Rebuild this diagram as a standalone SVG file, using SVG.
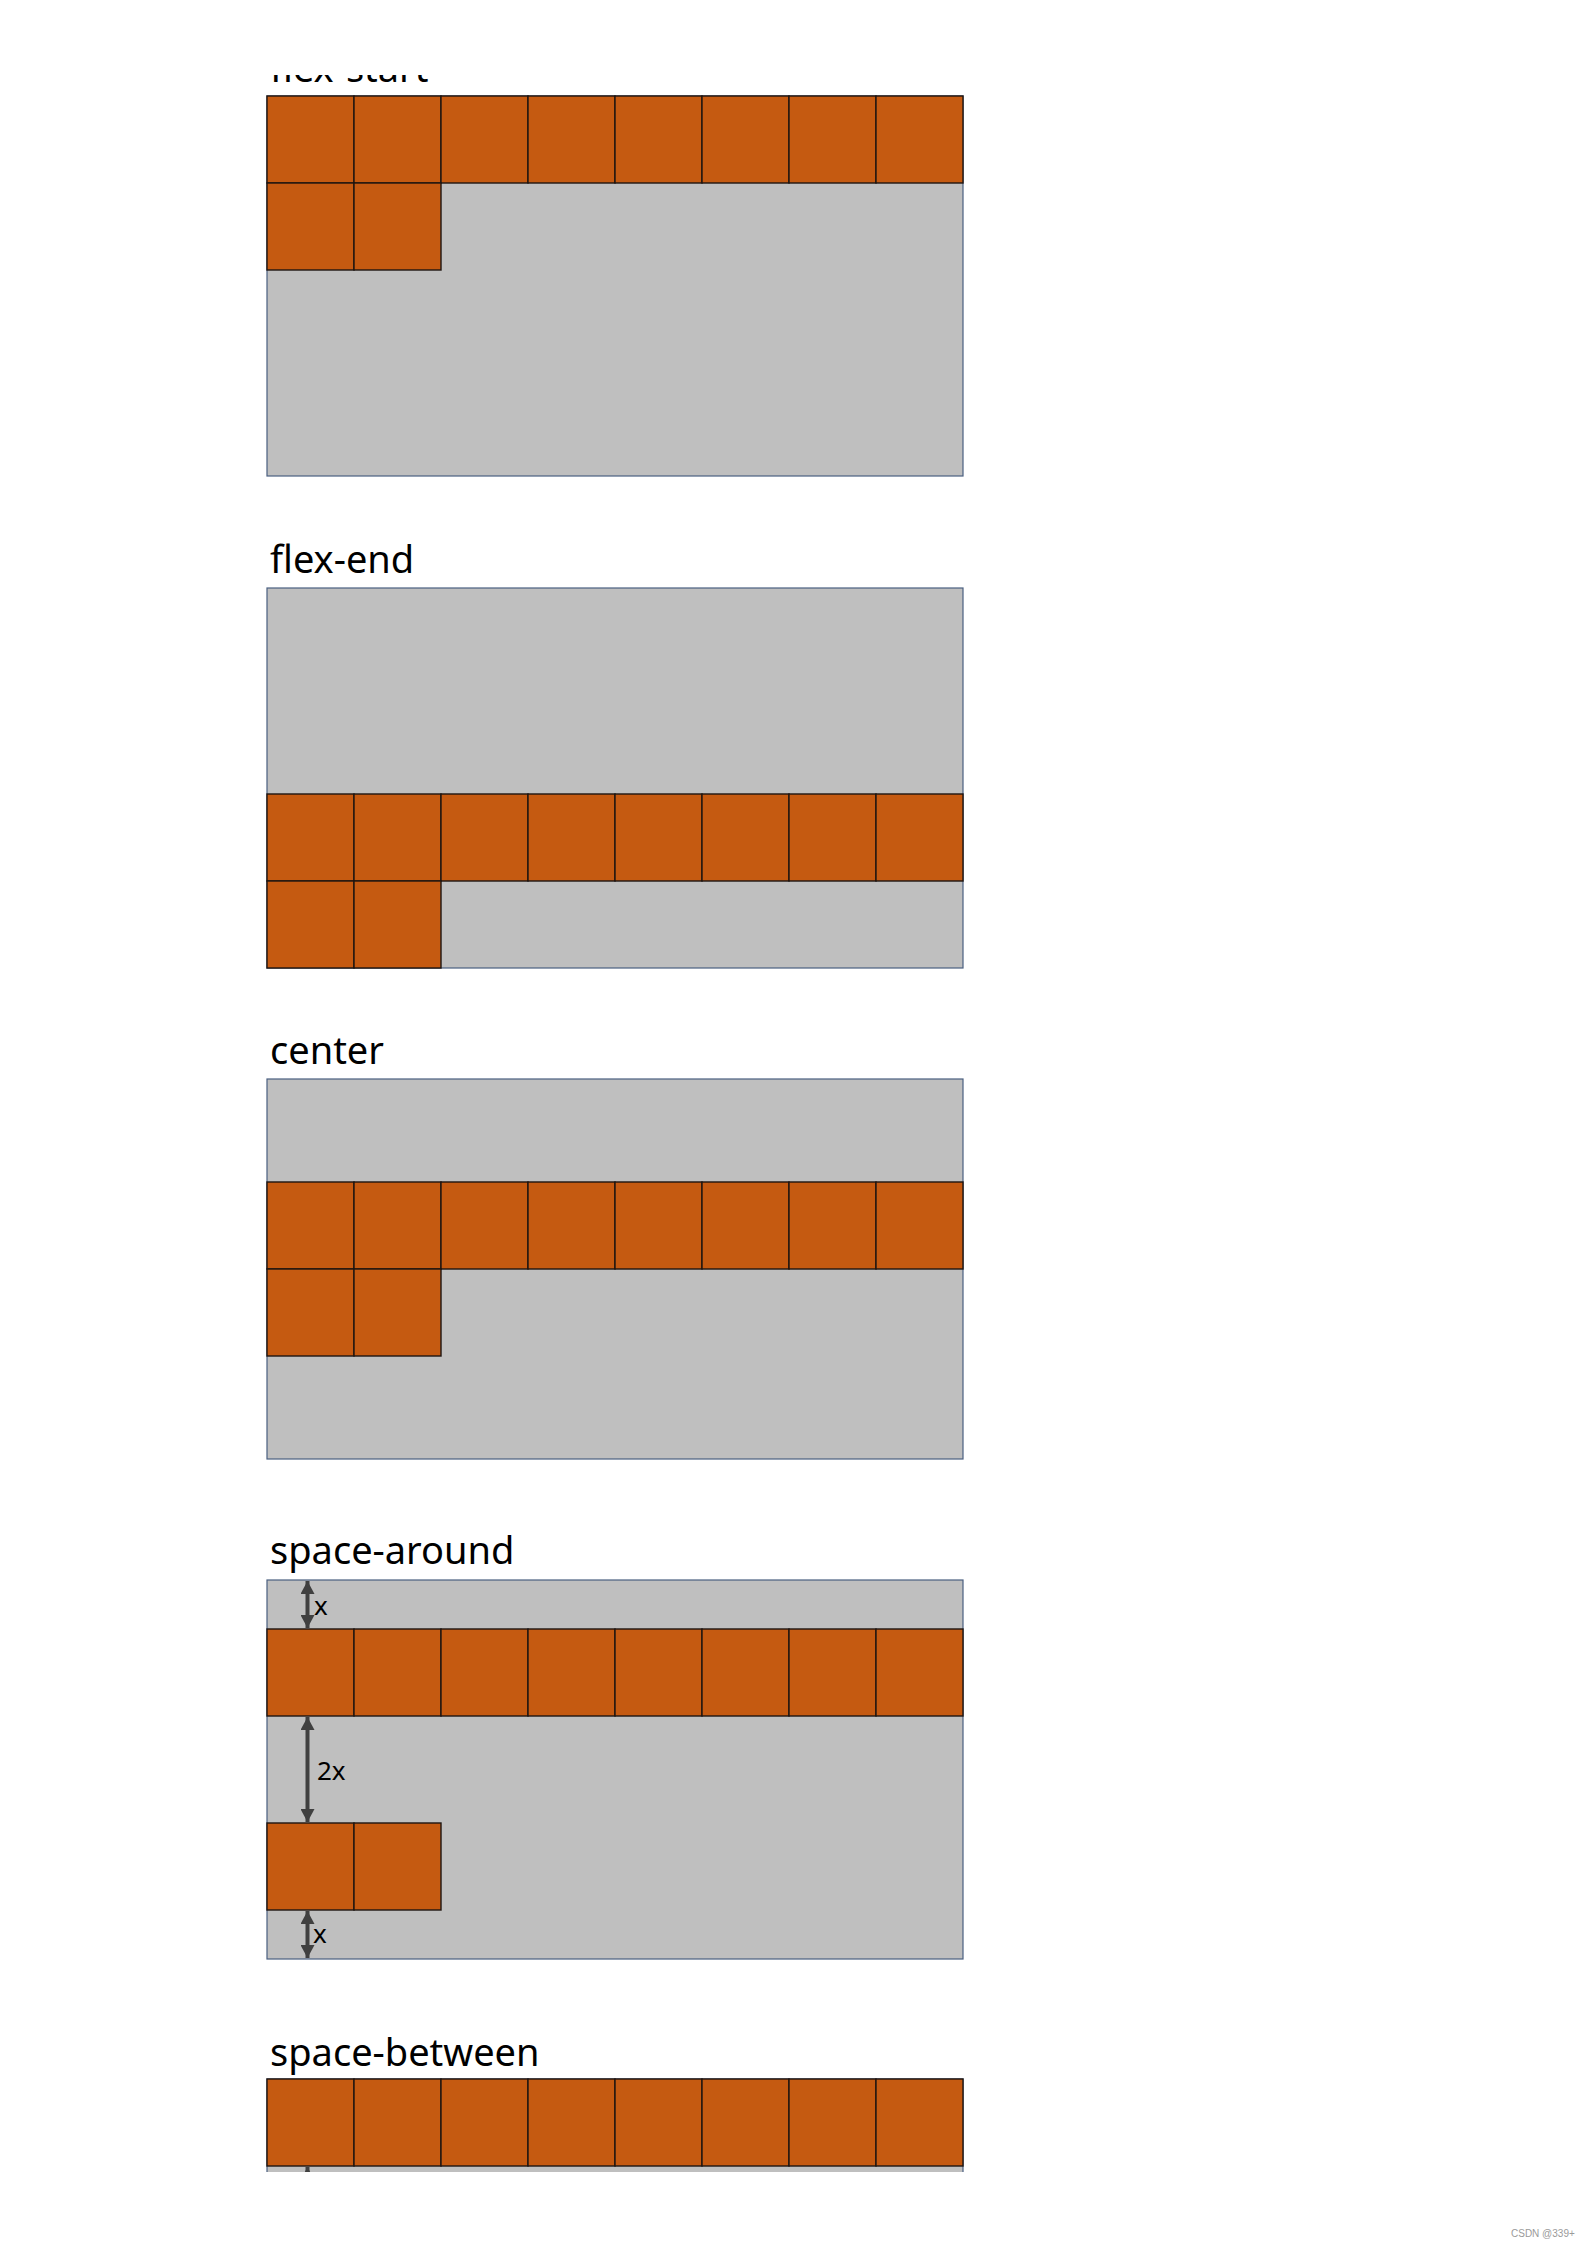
<svg xmlns="http://www.w3.org/2000/svg" width="1587" height="2246" viewBox="0 0 1587 2246">
<style>
.bg{fill:#ffffff}
.box{fill:#bfbfbf;stroke:#4a5f80;stroke-width:1.2}
.cell{fill:#c55a11;stroke:#1e1410;stroke-width:1.4}
.title{font-family:"Noto Sans","Open Sans","DejaVu Sans",sans-serif;font-size:38px;fill:#000}
.lbl{font-family:"Noto Sans","Open Sans","DejaVu Sans",sans-serif;font-size:26px;fill:#000}
.arr{stroke:#404040;stroke-width:4;fill:none}
.wm{font-family:"Liberation Sans",Arial,sans-serif;font-size:10px;fill:#9a9a9a}
</style>
<defs>
<marker id="ah" markerUnits="userSpaceOnUse" markerWidth="14" markerHeight="14" viewBox="0 0 14 14" refX="13" refY="7" orient="auto-start-reverse">
<path d="M0,0 L13,7 L0,14 Z" fill="#404040"/>
</marker>
<clipPath id="clipTop"><rect x="0" y="75" width="1587" height="100"/></clipPath>
<clipPath id="clipBottom"><rect x="0" y="2000" width="1587" height="172"/></clipPath>
<g id="row8">
<rect class="cell" x="267" y="0" width="87" height="87"/>
<rect class="cell" x="354" y="0" width="87" height="87"/>
<rect class="cell" x="441" y="0" width="87" height="87"/>
<rect class="cell" x="528" y="0" width="87" height="87"/>
<rect class="cell" x="615" y="0" width="87" height="87"/>
<rect class="cell" x="702" y="0" width="87" height="87"/>
<rect class="cell" x="789" y="0" width="87" height="87"/>
<rect class="cell" x="876" y="0" width="87" height="87"/>
</g>
<g id="row2">
<rect class="cell" x="267" y="0" width="87" height="87"/>
<rect class="cell" x="354" y="0" width="87" height="87"/>
</g>
</defs>
<rect class="bg" x="0" y="0" width="1587" height="2246"/>

<g id="flex-start">
<text class="title" x="270" y="82" clip-path="url(#clipTop)">flex-start</text>
<rect class="box" x="267" y="96" width="696" height="380"/>
<use href="#row8" y="96"/>
<use href="#row2" y="183"/>
</g>

<g id="flex-end">
<text class="title" x="270" y="573">flex-end</text>
<rect class="box" x="267" y="588" width="696" height="380"/>
<use href="#row8" y="794"/>
<use href="#row2" y="881"/>
</g>

<g id="center">
<text class="title" x="270" y="1064">center</text>
<rect class="box" x="267" y="1079" width="696" height="380"/>
<use href="#row8" y="1182"/>
<use href="#row2" y="1269"/>
</g>

<g id="space-around">
<text class="title" x="270" y="1564">space-around</text>
<rect class="box" x="267" y="1580" width="696" height="379"/>
<use href="#row8" y="1629"/>
<use href="#row2" y="1823"/>
<text class="lbl" x="314" y="1615">x</text>
<text class="lbl" x="317" y="1780">2x</text>
<text class="lbl" x="313" y="1943">x</text>
</g>

<g id="space-between" clip-path="url(#clipBottom)">
<text class="title" x="270" y="2066">space-between</text>
<rect class="box" x="267" y="2079" width="696" height="380"/>
<use href="#row8" y="2079"/>
</g>

<g id="connectors">
<line class="arr" x1="307.5" y1="1581" x2="307.5" y2="1628" marker-start="url(#ah)" marker-end="url(#ah)"/>
<line class="arr" x1="307.5" y1="1717" x2="307.5" y2="1822" marker-start="url(#ah)" marker-end="url(#ah)"/>
<line class="arr" x1="307.5" y1="1911" x2="307.5" y2="1958" marker-start="url(#ah)" marker-end="url(#ah)"/>
<g clip-path="url(#clipBottom)">
<line class="arr" x1="307.5" y1="2167" x2="307.5" y2="2210" marker-start="url(#ah)"/>
</g>
</g>

<text class="wm" x="1511" y="2237">CSDN @339+</text>
</svg>
